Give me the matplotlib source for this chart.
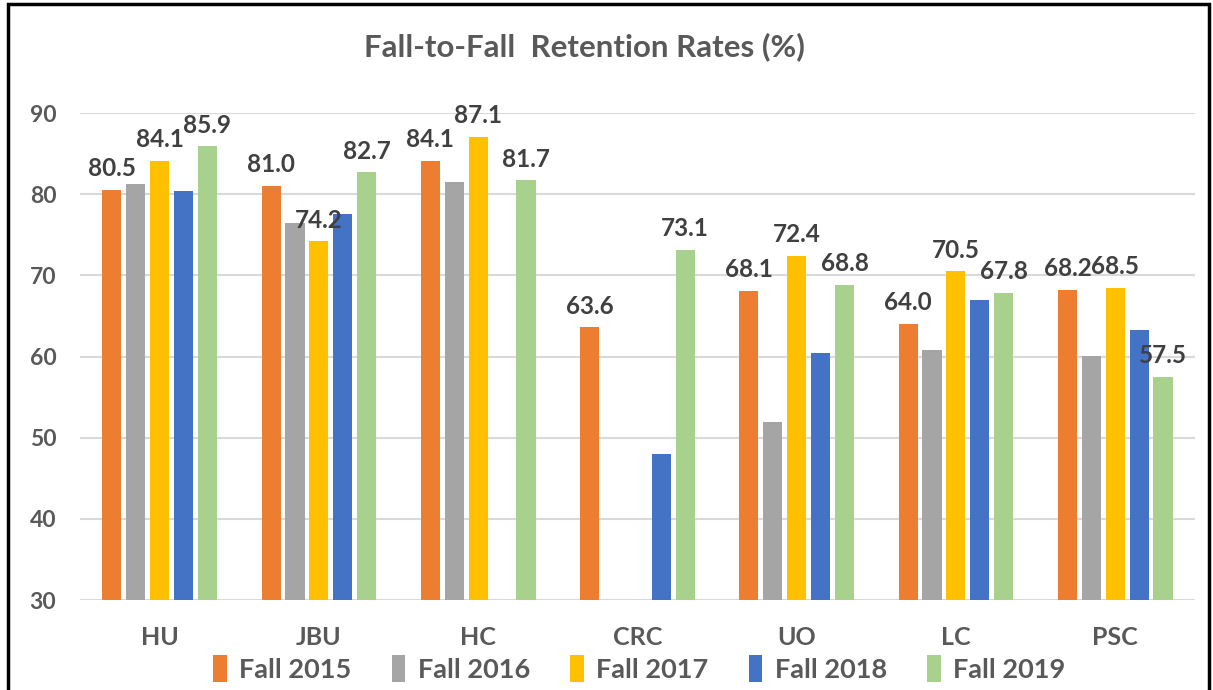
"""Fall-to-Fall retention rates by institution."""

import matplotlib
matplotlib.use("Agg")
import matplotlib.pyplot as plt
import numpy as np
from matplotlib.patches import Rectangle

plt.rcParams['font.family'] = ['Lato', 'DejaVu Sans']

# Data
schools = ["HU", "JBU", "HC", "CRC", "UO", "LC", "PSC"]
series_names = ["Fall 2015", "Fall 2016", "Fall 2017", "Fall 2018", "Fall 2019"]
fall_2015 = [80.5, 81.0, 84.1, 63.6, 68.1, 64.0, 68.2]
fall_2016 = [81.3, 76.4, 81.5, np.nan, 51.9, 60.8, 60.1]
fall_2017 = [84.1, 74.2, 87.1, np.nan, 72.4, 70.5, 68.5]
fall_2018 = [80.4, 77.5, np.nan, 48.0, 60.4, 67.0, 63.3]
fall_2019 = [85.9, 82.7, 81.7, 73.1, 68.8, 67.8, 57.5]
labelled = [True, False, True, False, True]

colors = ["#ED7D31", "#A5A5A5", "#FFC000", "#4472C4", "#A9D18E"]
text_color = "#595959"

all_series = [fall_2015, fall_2016, fall_2017, fall_2018, fall_2019]

fig = plt.figure(figsize=(12.13, 6.9), dpi=100)
ax = fig.add_axes([0.066, 0.1304, 0.919, 0.7058])

x = np.arange(len(schools))
pitch = 0.15
width = 0.12
for i, vals in enumerate(all_series):
    offs = (i - 2) * pitch
    ax.bar(x + offs, vals, width=width, bottom=0, color=colors[i],
           label=series_names[i], zorder=2)
    if labelled[i]:
        for xi, v in zip(x, vals):
            if np.isnan(v):
                continue
            ax.annotate("%.1f" % v, (xi + offs, v), xytext=(0, 7),
                        textcoords="offset points", ha="center", va="bottom",
                        fontsize=17.5, fontweight="bold", color="#404040")

ax.set_ylim(30, 90)
ax.set_xlim(-0.5, len(schools) - 0.5)
ax.set_yticks(np.arange(30, 91, 10))
ax.set_xticks(x)
ax.set_xticklabels(schools)
ax.yaxis.grid(True, color="#D9D9D9", linewidth=1.5, zorder=0)
ax.set_axisbelow(True)
for s in ax.spines.values():
    s.set_visible(False)
ax.tick_params(axis="both", length=0, colors=text_color)
ax.tick_params(axis="y", pad=17, labelsize=16.5)
ax.tick_params(axis="x", pad=19, labelsize=18)
for lbl in ax.get_xticklabels() + ax.get_yticklabels():
    lbl.set_fontweight("bold")

fig.text(0.482, 0.932, "Fall-to-Fall  Retention Rates (%)", ha="center",
         va="center", fontsize=22.5, fontweight="bold", color=text_color)

leg = fig.legend(loc="center", bbox_to_anchor=(0.527, 0.031), ncol=5,
                 frameon=False, handlelength=0.5, handleheight=1.2,
                 columnspacing=1.5, handletextpad=0.45,
                 prop={"size": 19.5, "weight": "bold"})
for t in leg.get_texts():
    t.set_color(text_color)

# outer black frame
fig.patches.append(Rectangle((0.007, -0.01), 0.99, 1.004, transform=fig.transFigure,
                             fill=False, edgecolor="black", linewidth=2.5))

plt.savefig("out.png", dpi=100)
plt.close()
